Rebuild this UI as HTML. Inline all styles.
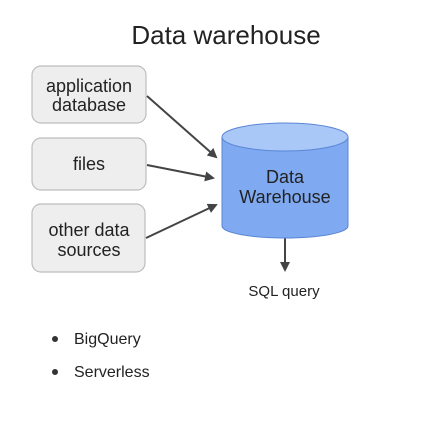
<!DOCTYPE html>
<html><head><style>
body{margin:0;width:446px;height:419px;background:#fff;overflow:hidden}
svg text{font-family:"Liberation Sans",sans-serif;fill:#222}
</style></head><body>
<svg width="446" height="419" viewBox="0 0 446 419">
<defs><marker id="a" markerWidth="10" markerHeight="10" refX="8" refY="5" orient="auto" markerUnits="userSpaceOnUse"><path d="M0,0 L10,5 L0,10 z" fill="#444"/></marker></defs>
<text x="226" y="44" font-size="26" text-anchor="middle">Data warehouse</text>
<g fill="#eeeeee" stroke="#bdbdbd" stroke-width="1.2">
<rect x="32" y="66" width="114" height="57" rx="9"/>
<rect x="32" y="138" width="114" height="52" rx="9"/>
<rect x="32" y="204" width="113" height="68" rx="9"/>
</g>
<g font-size="18" text-anchor="middle">
<text x="89" y="92">application</text><text x="89" y="111">database</text>
<text x="89" y="170">files</text>
<text x="89" y="236">other data</text><text x="89" y="256">sources</text>
</g>
<g stroke="#444" stroke-width="2" marker-end="url(#a)">
<line x1="147" y1="96" x2="216" y2="157"/>
<line x1="147" y1="165" x2="213" y2="178"/>
<line x1="146" y1="238" x2="216" y2="205"/>
<line x1="285" y1="238" x2="285" y2="270"/>
</g>
<path d="M222,137 L222,226 A63,12 0 0 0 348,226 L348,137 Z" fill="#7fa9f0" stroke="#5b86d6" stroke-width="1"/>
<ellipse cx="285" cy="137" rx="63" ry="14" fill="#aac8f7" stroke="#5b86d6" stroke-width="1"/>
<g font-size="18" text-anchor="middle"><text x="285" y="183">Data</text><text x="285" y="203">Warehouse</text></g>
<text x="284" y="296" font-size="15" text-anchor="middle" fill="#333">SQL query</text>
<circle cx="55" cy="339" r="3" fill="#333"/><circle cx="55" cy="372" r="3" fill="#333"/>
<text x="74" y="344" font-size="16">BigQuery</text>
<text x="74" y="377" font-size="16">Serverless</text>
</svg>
</body></html>
